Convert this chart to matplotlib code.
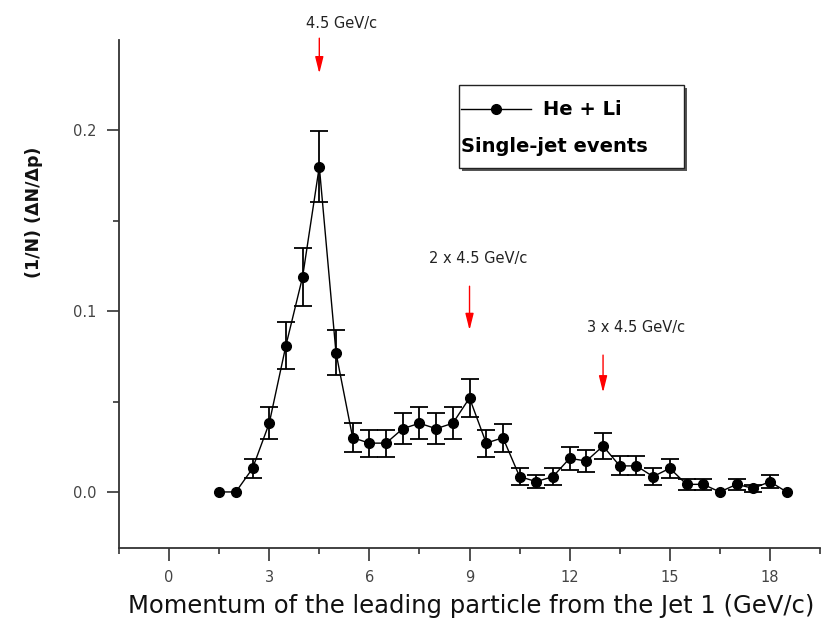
import numpy as np
import matplotlib
matplotlib.use('Agg')
import matplotlib.pyplot as plt
import matplotlib.patches as patches
import matplotlib.transforms as mtransforms

# momentum bins (GeV/c) and normalised counts
momentum = np.arange(1.5, 19.0, 0.5)
counts = np.array([0.000, 0.000, 0.013, 0.038, 0.081, 0.119, 0.180, 0.077, 0.030,
                   0.027, 0.027, 0.035, 0.038, 0.035, 0.038, 0.052, 0.027, 0.030,
                   0.0085, 0.0057, 0.0085, 0.0186, 0.0171, 0.0254, 0.0144, 0.0144,
                   0.0085, 0.0131, 0.0042, 0.0042, 0.000, 0.0042, 0.002, 0.0057, 0.000])
errors = np.array([0.000, 0.000, 0.0053, 0.0088, 0.0131, 0.016, 0.0198, 0.0124, 0.008,
                   0.0074, 0.0074, 0.0085, 0.0088, 0.0085, 0.0088, 0.0105, 0.0074, 0.0078,
                   0.0046, 0.0034, 0.0046, 0.0063, 0.006, 0.0074, 0.0053, 0.0053,
                   0.0046, 0.0053, 0.003, 0.003, 0.000, 0.003, 0.0018, 0.0037, 0.000])

x_ticks = [0, 3, 6, 9, 12, 15, 18]
y_ticks = [0.0, 0.1, 0.2]
y_tick_labels = ['0.0', '0.1', '0.2']

# arrows marking multiples of 4.5 GeV/c
peak_labels = ['4.5 GeV/c', '2 x 4.5 GeV/c', '3 x 4.5 GeV/c']
arrow_x = [4.5, 9.0, 13.0]
arrow_y = [(0.251, 0.2315), (0.1138, 0.0895), (0.0757, 0.055)]
label_xy = [(5.18, 0.259), (9.26, 0.129), (14.0, 0.0912)]

fig = plt.figure(figsize=(8.23, 6.29), dpi=100)
ax = fig.add_axes([0.1446, 0.1288, 0.8518, 0.8076])

ax.plot(momentum, counts, '-', color='black', lw=1.0, zorder=2)
has_err = errors > 0
ax.errorbar(momentum[has_err], counts[has_err], yerr=errors[has_err], fmt='none',
            ecolor='black', elinewidth=1.3, capsize=6.5, capthick=1.3, zorder=3)
ax.plot(momentum, counts, 'o', color='black', ms=7, zorder=4)

ax.set_xlim(-1.5, 19.5)
ax.set_ylim(-0.031, 0.25)
ax.spines['top'].set_visible(False)
ax.spines['right'].set_visible(False)
for s in ('left', 'bottom'):
    ax.spines[s].set_color('#333333')
    ax.spines[s].set_linewidth(1.3)

ax.set_xticks(x_ticks)
ax.set_xticks(np.arange(-1.5, 19.6, 3), minor=True)
ax.set_yticks(y_ticks)
ax.set_yticklabels(y_tick_labels)
ax.set_yticks([0.05, 0.15], minor=True)
ax.tick_params(which='major', direction='out', length=9, width=1.2, color='#333333',
               labelsize=10.5, labelcolor='#444444', pad=7)
ax.tick_params(which='minor', direction='out', length=4.5, width=1.2, color='#333333')

ax.set_xlabel('Momentum of the leading particle from the Jet 1 (GeV/c)', fontsize=17.5,
              color='#111111')
ax.xaxis.set_label_coords(0.502, -0.09)
ax.set_ylabel('(1/N) (\u0394N/\u0394p)', fontsize=12.5, fontweight='bold', color='#111111')
ax.yaxis.set_label_coords(-0.108, 0.661)

for lab, xa, (y0, y1), (tx, ty) in zip(peak_labels, arrow_x, arrow_y, label_xy):
    ax.annotate('', xy=(xa, y1), xytext=(xa, y0), annotation_clip=False,
                arrowprops=dict(arrowstyle='-|>,head_length=1.0,head_width=0.25',
                                mutation_scale=10, color='red', lw=1.0,
                                shrinkA=0, shrinkB=0))
    ax.text(tx, ty, lab, fontsize=10.5, color='#222222', ha='center', va='center',
            clip_on=False)

# legend box drawn by hand, with a drop shadow
box = (0.485, 0.748, 0.321, 0.163)
shadow_tr = mtransforms.offset_copy(ax.transAxes, fig=fig, x=3, y=-3, units='dots')
ax.add_patch(patches.Rectangle(box[:2], box[2], box[3], transform=shadow_tr,
                               facecolor='#555555', edgecolor='none', zorder=5,
                               clip_on=False))
ax.add_patch(patches.Rectangle(box[:2], box[2], box[3], transform=ax.transAxes,
                               facecolor='white', edgecolor='#222222', lw=1.0, zorder=6,
                               clip_on=False))
ax.plot([0.488, 0.587], [0.864, 0.864], '-', color='black', lw=1.0,
        transform=ax.transAxes, zorder=7, clip_on=False)
ax.plot([0.538], [0.864], 'o', color='black', ms=7, transform=ax.transAxes, zorder=7,
        clip_on=False)
ax.text(0.605, 0.864, 'He + Li', transform=ax.transAxes, fontsize=14, fontweight='bold',
        va='center', ha='left', zorder=8)
ax.text(0.488, 0.791, 'Single-jet events', transform=ax.transAxes, fontsize=14,
        fontweight='bold', va='center', ha='left', zorder=8)

fig.savefig('out.png', dpi=100)
